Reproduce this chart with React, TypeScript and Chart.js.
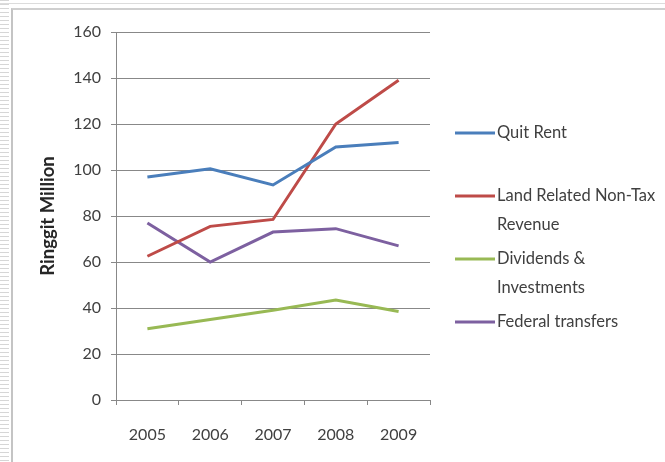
import React, { useEffect, useRef } from 'react';
import { Chart, registerables } from 'chart.js';

Chart.register(...registerables);

const years = ['2005', '2006', '2007', '2008', '2009'];
const quitRent = [97, 100.5, 93.5, 110, 112];
const landRelated = [62.5, 75.5, 78.5, 120, 139];
const dividends = [31, 35, 39, 43.5, 38.5];
const federalTransfers = [77, 60, 73, 74.5, 67];

const seriesLabels = ['Quit Rent', 'Land Related Non-Tax Revenue', 'Dividends & Investments', 'Federal transfers'];
const legendLines = [['Quit Rent'], ['Land Related Non-Tax', 'Revenue'], ['Dividends &', 'Investments'], ['Federal transfers']];
const seriesColors = ['#4A7EBB', '#BE4B48', '#98B954', '#7D60A0'];
const yMin = 0;
const yMax = 160;
const yStep = 20;
const yTitle = 'Ringgit Million';

const FONT = 'Lato, "Open Sans", sans-serif';
const GRID = '#888888';
const TEXT = '#404040';

const legendPlugin = {
  id: 'sideLegend',
  afterDraw(chart: any) {
    const ctx = chart.ctx;
    const startY = 133;
    const step = 63;
    const lineH = 29;
    ctx.save();
    ctx.font = `16.5px ${FONT}`;
    ctx.textBaseline = 'middle';
    ctx.textAlign = 'left';
    chart.data.datasets.forEach((ds: any, i: number) => {
      const y = startY + i * step;
      ctx.strokeStyle = ds.borderColor;
      ctx.lineWidth = 3;
      ctx.beginPath();
      ctx.moveTo(455, y);
      ctx.lineTo(495, y);
      ctx.stroke();
      ctx.fillStyle = TEXT;
      legendLines[i].forEach((t, k) => ctx.fillText(t, 497, y + k * lineH));
    });
    ctx.restore();
  },
};

export default function App() {
  const ref = useRef<HTMLCanvasElement | null>(null);
  useEffect(() => {
    document.body.style.margin = '0';
    const values = [quitRent, landRelated, dividends, federalTransfers];
    const chart = new Chart(ref.current as HTMLCanvasElement, {
      type: 'line',
      data: {
        labels: years,
        datasets: values.map((v, i) => ({
          label: seriesLabels[i],
          data: v,
          borderColor: seriesColors[i],
          backgroundColor: seriesColors[i],
          borderWidth: 3,
          pointRadius: 0,
          tension: 0,
          fill: false,
        })),
      },
      options: {
        animation: false,
        responsive: false,
        devicePixelRatio: 1,
        layout: { padding: { top: 32, right: 235, bottom: 0, left: 0 } },
        plugins: { legend: { display: false }, tooltip: { enabled: false }, title: { display: false } },
        scales: {
          x: {
            offset: true,
            grid: { display: true, drawOnChartArea: false, drawTicks: true, tickLength: 5, offset: true, color: GRID },
            border: { display: true, color: GRID, width: 1 },
            ticks: { color: TEXT, font: { family: FONT, size: 16 }, padding: 20, maxRotation: 0 },
            afterFit: (s: any) => { s.height = 62; },
          },
          y: {
            min: yMin,
            max: yMax,
            grid: { color: GRID, tickLength: 5, drawTicks: true },
            border: { display: true, color: GRID, width: 1 },
            ticks: { stepSize: yStep, color: TEXT, font: { family: FONT, size: 16 }, padding: 10 },
            title: {
              display: true,
              text: yTitle,
              color: '#262626',
              font: { family: FONT, size: 18.5, weight: 'bold' },
              padding: { top: 37, bottom: 0 },
            },
            afterFit: (s: any) => { s.width = 116; },
          },
        },
      },
      plugins: [legendPlugin],
    } as any);
    return () => chart.destroy();
  }, []);

  return (
    <div style={{ position: 'relative', width: 665, height: 462, background: '#fff', overflow: 'hidden' }}>
      <div style={{ position: 'absolute', left: 0, top: 0, width: 9, height: 462,
        background: 'repeating-linear-gradient(to bottom, #d6d6d6 0px, #d6d6d6 1px, #ffffff 1px, #ffffff 4px)' }} />
      <div style={{ position: 'absolute', left: 0, top: 3, width: 665, height: 1, background: '#dcdcdc' }} />
      <div style={{ position: 'absolute', left: 11, top: 8, width: 660, height: 460,
        borderLeft: '2px solid #c4c4c4', borderTop: '2px solid #cfcfcf', boxSizing: 'border-box' }} />
      <canvas ref={ref} width={665} height={462} style={{ position: 'absolute', left: 0, top: 0 }} />
    </div>
  );
}
